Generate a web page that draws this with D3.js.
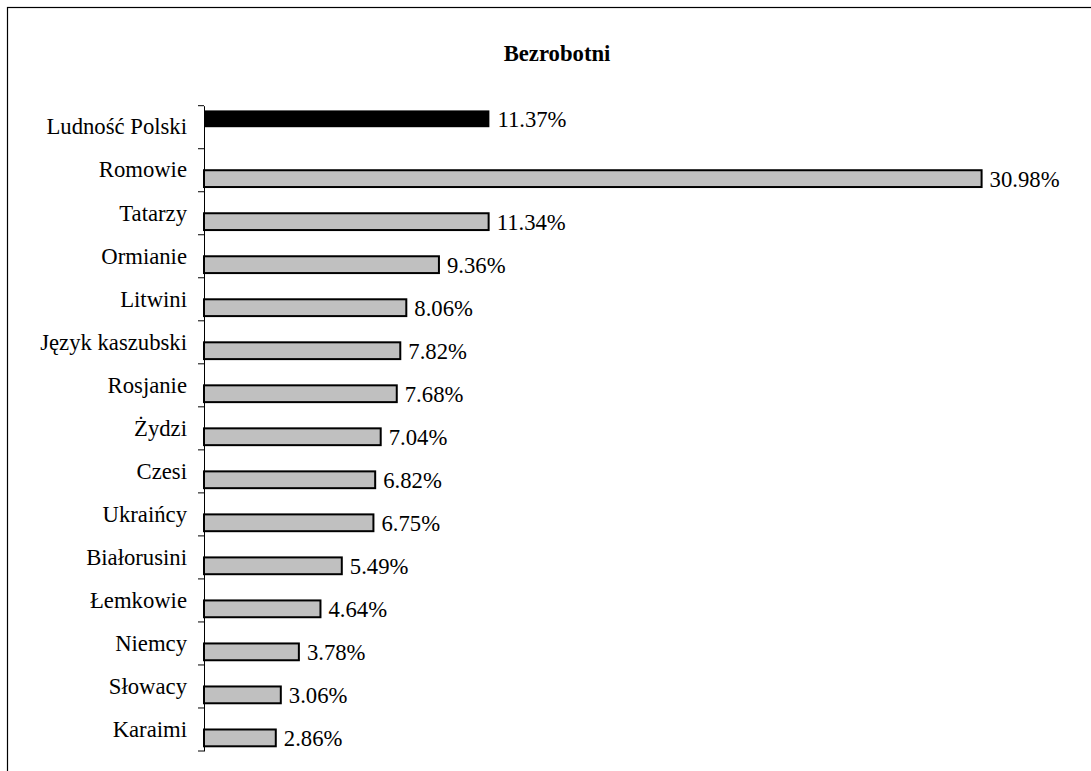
<!DOCTYPE html>
<html>
<head>
<meta charset="utf-8">
<script src="https://cdn.jsdelivr.net/npm/d3@7"></script>
<style>
  html, body { margin: 0; padding: 0; background: #fff; }
  svg { display: block; }
  text { font-family: "Liberation Serif", "Times New Roman", serif; fill: #000; }
</style>
</head>
<body>
<script>
const title = "Bezrobotni";
const categories = ["Ludność Polski", "Romowie", "Tatarzy", "Ormianie", "Litwini", "Język kaszubski",
  "Rosjanie", "Żydzi", "Czesi", "Ukraińcy", "Białorusini", "Łemkowie", "Niemcy", "Słowacy", "Karaimi"];
const polandValues = [11.37, null, null, null, null, null, null, null, null, null, null, null, null, null, null];
const minorityValues = [null, 30.98, 11.34, 9.36, 8.06, 7.82, 7.68, 7.04, 6.82, 6.75, 5.49, 4.64, 3.78, 3.06, 2.86];
const seriesNames = ["polska", "mniejszosci"];
const seriesFills = ["#000000", "#c0c0c0"];

const W = 1091, H = 771;
const svg = d3.select("body").append("svg").attr("width", W).attr("height", H);

// outer frame (top and left edges visible)
svg.append("rect").attr("x", 7.5).attr("y", 7.5).attr("width", W + 20).attr("height", H + 20)
  .attr("fill", "none").attr("stroke", "#000").attr("stroke-width", 1.2);

svg.append("text").attr("x", 557).attr("y", 61).attr("text-anchor", "middle")
  .attr("font-weight", "bold").attr("font-size", "22.7px").text(title);

const x0 = 204;
const x = d3.scaleLinear().domain([0, 35]).range([x0, x0 + 35 * 25.1]);
const y = d3.scaleBand().domain(categories).range([105.7, 751]).padding(0);
const slot = d3.scaleBand().domain(seriesNames).range([0, y.bandwidth()]).paddingInner(0).paddingOuter(0.28);

// axis with labels
const axis = d3.axisLeft(y).tickSize(0).tickPadding(17);
const gA = svg.append("g").attr("transform", `translate(${x0},0)`).call(axis);
gA.select(".domain").attr("stroke", "#000").attr("stroke-width", 1);
gA.selectAll("text").attr("font-size", "22.7px").attr("font-family", "Liberation Serif, Times New Roman, serif").attr("fill", "#000");

// tick marks at band boundaries
const bounds = categories.map(c => y(c)).concat([y(categories[categories.length - 1]) + y.bandwidth()]);
svg.append("g").selectAll("line").data(bounds).join("line")
  .attr("x1", x0 - 6).attr("x2", x0).attr("y1", d => d).attr("y2", d => d)
  .attr("stroke", "#000").attr("stroke-width", 1);

const series = [polandValues, minorityValues];
series.forEach((vals, si) => {
  const data = categories.map((c, i) => ({ c, v: vals[i] })).filter(d => d.v != null);
  const g = svg.append("g");
  g.selectAll("rect").data(data).join("rect")
    .attr("x", x(0))
    .attr("y", d => y(d.c) + slot(seriesNames[si]))
    .attr("width", d => x(d.v) - x(0))
    .attr("height", slot.bandwidth())
    .attr("fill", seriesFills[si])
    .attr("stroke", "#000").attr("stroke-width", si === 0 ? 0 : 2);
  g.selectAll("text").data(data).join("text")
    .attr("x", d => x(d.v) + 8)
    .attr("y", d => y(d.c) + slot(seriesNames[si]) + slot.bandwidth() / 2)
    .attr("dy", "0.35em")
    .attr("font-size", "22.7px")
    .text(d => d.v.toFixed(2) + "%");
});
</script>
</body>
</html>
